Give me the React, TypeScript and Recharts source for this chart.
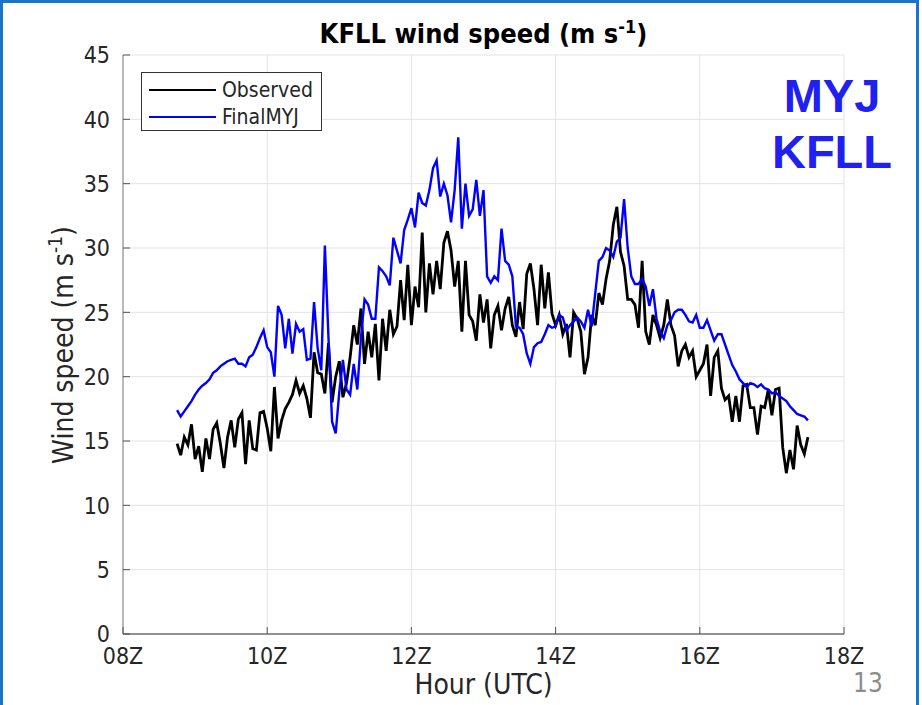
import { LineChart, Line, XAxis, YAxis, CartesianGrid, Legend } from "recharts";

// 3-minute samples starting at 08:45Z
const startHour = 8.75;
const stepHour = 0.05;

const observed = [
  14.8, 13.9, 15.3, 14.7, 16.3, 13.6, 14.6, 12.6, 15.2, 13.6,
  15.9, 16.4, 14.8, 12.9, 15.3, 16.6, 14.5, 16.7, 17.2, 13.2,
  16.6, 14.4, 14.3, 17.2, 17.3, 16.0, 14.2, 19.2, 15.2, 16.6,
  17.5, 18.0, 18.6, 19.7, 18.7, 19.3, 18.3, 16.8, 21.9, 20.3,
  20.2, 18.7, 22.6, 18.0, 20.0, 21.2, 18.4, 19.5, 21.5, 24.0,
  22.5, 25.3, 21.0, 23.5, 21.5, 24.1, 19.7, 24.5, 22.0, 25.2,
  23.3, 23.9, 27.5, 24.4, 28.7, 24.0, 27.0, 25.4, 31.2, 25.0,
  28.8, 26.4, 29.0, 26.8, 30.4, 31.3, 29.8, 27.0, 29.0, 23.5,
  29.0, 24.8, 24.3, 22.8, 26.4, 24.2, 26.0, 22.2, 24.8, 25.5,
  23.6, 25.3, 26.2, 24.0, 23.1, 25.8, 23.7, 28.0, 28.8, 26.8,
  24.0, 28.7, 25.3, 28.1, 24.9, 24.0, 24.8, 23.3, 24.1, 21.5,
  25.0, 24.5, 23.5, 20.2, 21.5, 24.8, 24.0, 26.5, 25.6, 27.6,
  29.0, 31.8, 33.2, 29.7, 28.6, 26.0, 26.0, 25.6, 23.8, 29.0,
  23.5, 22.5, 24.8, 24.0, 23.0, 24.0, 26.0, 24.0, 23.2, 20.8,
  22.0, 22.5, 21.5, 22.0, 20.0, 20.5, 21.0, 22.5, 18.5, 21.5,
  22.0, 19.1, 18.2, 18.5, 16.5, 18.5, 16.5, 19.3, 19.4, 17.6,
  17.6, 15.5, 17.7, 17.6, 19.0, 17.0, 19.0, 19.1, 14.5, 12.5,
  14.3, 12.8, 16.2, 14.7, 14.0, 15.3,
];

const finalMYJ = [
  17.4, 16.9, 17.3, 17.7, 18.1, 18.6, 19.0, 19.3, 19.5, 19.8,
  20.3, 20.5, 20.8, 21.0, 21.2, 21.3, 21.4, 21.0, 21.0, 20.8,
  21.5, 21.7, 22.3, 23.0, 23.6, 22.3, 21.9, 20.0, 25.5, 24.8,
  22.2, 24.5, 21.8, 24.1, 23.5, 23.7, 21.3, 21.4, 25.8, 22.2,
  20.5, 30.2, 23.0, 16.5, 15.6, 18.8, 21.3, 19.0, 18.6, 21.0,
  19.0, 23.0, 26.0, 25.6, 24.5, 24.5, 28.5, 28.2, 27.8, 27.1,
  30.8, 29.8, 28.8, 31.4, 32.2, 33.1, 31.6, 34.3, 33.5, 33.3,
  34.5, 36.2, 36.8, 34.0, 35.0, 34.1, 32.0, 34.5, 38.6, 31.5,
  35.0, 32.5, 33.0, 35.3, 32.5, 34.5, 27.8, 27.3, 27.8, 27.5,
  31.5, 29.0, 28.7, 27.8, 23.9, 23.8, 23.3, 21.8, 21.0, 22.3,
  22.6, 22.7, 23.3, 24.0, 23.8, 23.9, 24.8, 24.6, 23.6, 24.0,
  24.3, 24.6, 24.3, 23.8, 25.2, 23.9, 26.5, 29.0, 29.3, 30.0,
  29.8, 29.3, 30.5, 30.8, 33.8, 30.0, 27.8, 27.2, 27.2, 27.6,
  27.0, 25.5, 26.8, 24.5, 23.5, 23.0, 24.0, 24.4, 25.0, 25.2,
  25.2, 24.8, 24.3, 24.2, 24.8, 23.8, 23.8, 24.4, 23.6, 22.8,
  23.3, 23.3, 22.5, 21.7, 20.9, 20.4, 19.8, 19.5, 19.2, 19.5,
  19.4, 19.2, 19.4, 19.1, 19.0, 18.7, 18.8, 18.5, 18.3, 18.1,
  17.7, 17.4, 17.1, 17.0, 16.9, 16.6,
];

const seriesOrder = ["Observed", "FinalMYJ"];
const hourTicks = [8, 10, 12, 14, 16, 18];
const speedTicks = [0, 5, 10, 15, 20, 25, 30, 35, 40, 45];

const data = observed.map((v, i) => ({
  t: startHour + i * stepHour,
  observed: v,
  finalMYJ: finalMYJ[i],
}));

const FONT = '"DejaVu Sans Condensed", "DejaVu Sans", sans-serif';
const TEXT = "#262626";

// MATLAB style: labels outside, tick marks pointing into the axes
const YTick = (props: any) => {
  const { x, y, payload } = props;
  return (
    <g>
      <line x1={x + 13} x2={x + 20} y1={y} y2={y} stroke="#555" />
      <text x={x} y={y} dy="0.36em" textAnchor="end" fill={TEXT} fontSize={23} fontFamily={FONT}>
        {payload.value}
      </text>
    </g>
  );
};

const XTick = (props: any) => {
  const { x, y, payload } = props;
  const h = payload.value;
  return (
    <g>
      <line x1={x} x2={x} y1={y - 10} y2={y - 17} stroke="#555" />
      <text x={x} y={y} dy="0.86em" textAnchor="middle" fill={TEXT} fontSize={23} fontFamily={FONT}>
        {`${String(h).padStart(2, "0")}Z`}
      </text>
    </g>
  );
};

const renderLegend = (props: any) => {
  const items = [...props.payload].sort(
    (a: any, b: any) => seriesOrder.indexOf(a.value) - seriesOrder.indexOf(b.value)
  );
  return (
    <div
      style={{
        width: 181,
        height: 59,
        boxSizing: "border-box",
        border: "1px solid #333",
        background: "#fff",
        paddingTop: 3,
        fontFamily: FONT,
        fontSize: 21,
        color: TEXT,
      }}
    >
      {items.map((entry: any) => (
        <div key={entry.value} style={{ display: "flex", alignItems: "center", height: 27 }}>
          <div style={{ width: 67, height: 0, borderTop: `2px solid ${entry.color}`, marginLeft: 7, marginRight: 6 }} />
          <span>{entry.value}</span>
        </div>
      ))}
    </div>
  );
};

export default function App() {
  return (
    <div style={{ position: "absolute", left: 0, top: 0, width: 922, height: 705, background: "#fff" }}>
      <div
        style={{
          position: "absolute",
          left: 0,
          top: 0,
          width: 919,
          height: 705,
          boxSizing: "border-box",
          borderLeft: "3px solid #1b74c9",
          borderTop: "3px solid #1b74c9",
          borderRight: "3px solid #1b74c9",
        }}
      />
      <LineChart width={922} height={705} data={data} margin={{ top: 55, right: 78, bottom: 41, left: 63 }}>
        <CartesianGrid stroke="#e3e3e3" strokeWidth={1} />
        <XAxis
          dataKey="t"
          type="number"
          domain={[8, 18]}
          ticks={hourTicks}
          height={30}
          tickSize={6}
          tickMargin={4}
          tickLine={false}
          axisLine={{ stroke: "#333" }}
          tick={<XTick />}
          interval={0}
        />
        <YAxis
          type="number"
          domain={[0, 45]}
          ticks={speedTicks}
          width={60}
          tickSize={6}
          tickMargin={7}
          tickLine={false}
          axisLine={{ stroke: "#808080" }}
          tick={<YTick />}
          interval={0}
        />
        <Legend
          layout="horizontal"
          verticalAlign="middle"
          align="center"
          content={renderLegend}
          wrapperStyle={{ left: 141, top: 72, width: 181, height: 59 }}
        />
        <Line
          type="linear"
          dataKey="observed"
          name="Observed"
          stroke="#000"
          strokeWidth={2.8}
          dot={false}
          isAnimationActive={false}
        />
        <Line
          type="linear"
          dataKey="finalMYJ"
          name="FinalMYJ"
          stroke="#0000ff"
          strokeWidth={2.4}
          dot={false}
          isAnimationActive={false}
        />
      </LineChart>

      <div
        style={{
          position: "absolute",
          left: 123,
          width: 721,
          top: 16,
          textAlign: "center",
          fontFamily: FONT,
          fontWeight: "bold",
          fontSize: 27,
          color: "#000",
        }}
      >
        KFLL wind speed (m s<sup style={{ fontSize: 18 }}>-1</sup>)
      </div>

      <div
        style={{
          position: "absolute",
          left: 123,
          width: 721,
          top: 668,
          textAlign: "center",
          fontFamily: FONT,
          fontSize: 28,
          color: TEXT,
        }}
      >
        Hour (UTC)
      </div>

      <div style={{ position: "absolute", left: 62, top: 345, width: 0, height: 0 }}>
        <div
          style={{
            position: "absolute",
            left: 0,
            top: 0,
            transform: "translate(-50%, -50%) rotate(-90deg)",
            whiteSpace: "nowrap",
            fontFamily: FONT,
            fontSize: 28,
            color: TEXT,
          }}
        >
          Wind speed (m s<sup style={{ fontSize: 19 }}>-1</sup>)
        </div>
      </div>

      <div
        style={{
          position: "absolute",
          left: 752,
          width: 160,
          top: 68,
          textAlign: "center",
          fontFamily: '"Liberation Sans", Arial, sans-serif',
          fontWeight: "bold",
          fontSize: 47,
          lineHeight: "56px",
          color: "#2020f0",
        }}
      >
        MYJ
        <br />
        KFLL
      </div>

      <div
        style={{
          position: "absolute",
          left: 853,
          top: 668,
          fontFamily: FONT,
          fontSize: 26,
          color: "#8c8c8c",
        }}
      >
        13
      </div>
    </div>
  );
}
